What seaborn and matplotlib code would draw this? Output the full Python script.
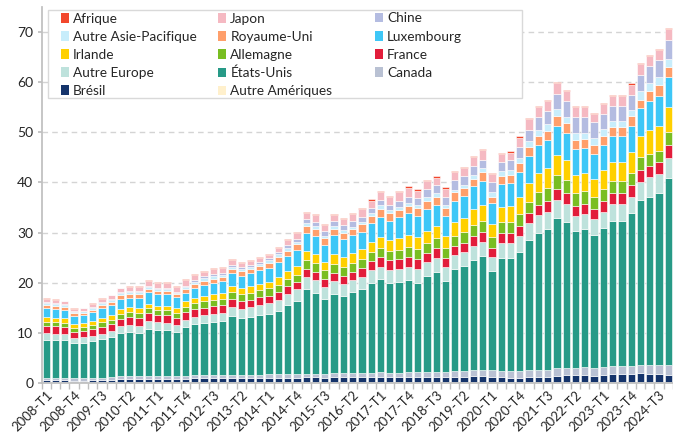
import numpy as np
import pandas as pd
import seaborn as sns
import matplotlib.pyplot as plt
from matplotlib.patches import Patch, Rectangle

sns.set_theme(style="white")
plt.rcParams['font.family'] = ['Lato', 'DejaVu Sans']

# trimestres 2008-T1 .. 2024-T4
quarters = [f"{y}-T{q}" for y in range(2008, 2025) for q in range(1, 5)]

# valeurs (empilées du bas vers le haut)
autre_ameriques = [0.1, 0.1, 0.1, 0.1, 0.1, 0.1, 0.1, 0.1, 0.1, 0.1, 0.1, 0.1, 0.1, 0.1, 0.1, 0.1, 0.1,
                   0.1, 0.1, 0.1, 0.1, 0.1, 0.1, 0.1, 0.1, 0.1, 0.1, 0.1, 0.1, 0.1, 0.1, 0.1, 0.1, 0.1,
                   0.1, 0.1, 0.1, 0.1, 0.1, 0.1, 0.1, 0.1, 0.1, 0.1, 0.1, 0.1, 0.1, 0.1, 0.1, 0.1, 0.1,
                   0.1, 0.1, 0.1, 0.1, 0.1, 0.1, 0.1, 0.1, 0.1, 0.1, 0.1, 0.1, 0.1, 0.1, 0.1, 0.1, 0.1]
bresil = [0.4, 0.4, 0.4, 0.3, 0.3, 0.4, 0.4, 0.5, 0.6, 0.6, 0.6, 0.7, 0.7, 0.7, 0.7, 0.7, 0.8,
          0.8, 0.8, 0.8, 0.8, 0.8, 0.8, 0.8, 0.9, 0.9, 0.9, 0.9, 1.0, 1.0, 0.9, 1.0, 1.0, 1.0,
          1.0, 1.0, 1.1, 1.0, 1.0, 1.0, 1.0, 1.0, 1.1, 1.0, 1.1, 1.1, 1.2, 1.2, 1.1, 1.0, 0.9,
          0.9, 1.0, 1.1, 1.1, 1.3, 1.4, 1.4, 1.4, 1.3, 1.4, 1.6, 1.6, 1.6, 1.8, 1.6, 1.6, 1.4]
canada = [0.5, 0.5, 0.5, 0.6, 0.6, 0.5, 0.5, 0.5, 0.6, 0.6, 0.6, 0.6, 0.6, 0.6, 0.6, 0.6, 0.6,
          0.6, 0.6, 0.6, 0.6, 0.7, 0.7, 0.7, 0.7, 0.7, 0.7, 0.7, 0.7, 0.7, 0.7, 0.8, 0.8, 0.8,
          0.9, 0.9, 0.9, 0.9, 0.9, 1.0, 1.0, 1.0, 1.0, 1.1, 1.1, 1.2, 1.2, 1.2, 1.3, 1.3, 1.3,
          1.3, 1.4, 1.4, 1.4, 1.5, 1.5, 1.5, 1.6, 1.6, 1.6, 1.6, 1.6, 1.7, 1.6, 1.8, 1.9, 2.0]
etats_unis = [7.5, 7.5, 7.6, 6.9, 7.0, 7.3, 7.7, 8.0, 8.6, 8.9, 8.7, 9.4, 9.2, 9.1, 8.8, 9.7, 10.2,
              10.5, 10.7, 10.9, 11.9, 11.4, 11.6, 12.0, 12.1, 12.7, 13.9, 14.7, 16.9, 16.2, 15.1, 15.9, 15.4, 16.3,
              16.7, 18.0, 18.6, 17.9, 18.1, 18.5, 17.9, 19.2, 20.0, 18.2, 20.4, 20.9, 22.1, 22.8, 19.9, 22.6, 22.7,
              23.9, 26.0, 27.4, 28.1, 30.0, 29.2, 27.3, 27.6, 26.5, 27.8, 29.0, 29.0, 30.5, 33.0, 33.7, 34.2, 37.4]
autre_europe = [1.4, 1.3, 1.2, 1.1, 1.1, 1.1, 1.1, 1.2, 1.4, 1.4, 1.4, 1.5, 1.5, 1.5, 1.4, 1.5, 1.5,
                1.5, 1.6, 1.6, 1.8, 1.8, 1.9, 2.0, 2.1, 2.2, 2.2, 2.3, 2.4, 2.5, 2.4, 2.6, 2.5, 2.4,
                2.5, 2.5, 2.5, 2.6, 2.6, 2.6, 2.7, 2.8, 2.8, 2.7, 2.8, 2.8, 2.8, 2.9, 2.7, 2.9, 2.9,
                3.2, 3.4, 3.5, 3.5, 3.6, 3.5, 3.1, 3.1, 3.2, 3.3, 3.4, 3.4, 3.3, 3.6, 3.8, 3.9, 3.9]
france = [1.5, 1.5, 1.4, 1.2, 1.2, 1.3, 1.4, 1.4, 1.5, 1.6, 1.6, 1.6, 1.5, 1.5, 1.4, 1.5, 1.5,
          1.5, 1.5, 1.5, 1.6, 1.6, 1.5, 1.5, 1.5, 1.5, 1.5, 1.5, 1.7, 1.7, 1.6, 1.6, 1.6, 1.6,
          1.8, 1.9, 2.0, 2.0, 2.0, 2.0, 2.0, 1.9, 1.9, 1.8, 1.9, 1.9, 2.0, 2.0, 1.8, 2.0, 2.0,
          2.0, 2.0, 2.1, 2.1, 2.2, 2.2, 2.0, 2.0, 2.1, 2.2, 2.2, 2.2, 2.2, 2.3, 2.3, 2.3, 2.7]
allemagne = [0.8, 0.8, 0.8, 0.8, 0.8, 0.8, 0.9, 0.9, 1.0, 1.0, 1.0, 1.0, 0.9, 1.0, 1.0, 1.1, 1.2,
             1.3, 1.3, 1.3, 1.3, 1.3, 1.4, 1.4, 1.5, 1.5, 1.4, 1.4, 1.8, 1.8, 1.7, 1.8, 1.8, 1.8,
             1.8, 1.8, 1.8, 1.8, 1.9, 2.0, 2.0, 2.0, 2.0, 2.0, 2.0, 2.1, 2.2, 2.2, 2.2, 2.3, 2.3,
             2.3, 2.3, 2.4, 2.5, 2.7, 2.6, 2.5, 2.4, 2.4, 2.3, 2.3, 2.3, 2.4, 2.6, 2.4, 2.3, 2.5]
irlande = [0.9, 0.9, 0.9, 0.8, 0.8, 0.8, 0.9, 0.9, 1.0, 1.0, 1.0, 0.9, 0.8, 0.9, 0.9, 1.1, 1.0,
           1.0, 1.1, 1.2, 1.3, 1.2, 1.3, 1.3, 1.3, 1.5, 1.6, 1.8, 1.7, 1.8, 1.7, 1.9, 2.0, 2.0,
           1.9, 2.0, 2.2, 2.2, 2.3, 2.3, 2.4, 2.4, 2.5, 2.5, 2.8, 2.9, 3.1, 3.1, 2.6, 3.0, 3.1,
           3.4, 3.7, 3.9, 4.0, 4.1, 3.9, 3.6, 3.6, 3.5, 3.7, 3.8, 3.8, 4.2, 4.3, 4.7, 5.0, 5.0]
luxembourg = [1.9, 1.8, 1.7, 1.6, 1.6, 1.8, 2.0, 2.1, 2.0, 1.8, 2.0, 2.3, 2.5, 2.4, 2.2, 1.7, 2.0,
              2.2, 2.3, 2.3, 2.5, 2.5, 2.6, 2.7, 2.8, 3.0, 3.0, 3.1, 3.7, 3.6, 3.4, 3.8, 3.6, 3.5,
              3.5, 3.7, 3.9, 3.9, 4.2, 4.4, 4.3, 4.3, 4.2, 4.0, 4.2, 4.3, 4.5, 4.8, 4.2, 4.5, 4.6,
              5.0, 5.3, 5.5, 5.6, 5.8, 5.5, 5.2, 5.1, 5.0, 5.1, 5.2, 5.2, 5.3, 5.5, 5.8, 6.0, 6.0]
royaume_uni = [0.6, 0.6, 0.6, 0.5, 0.5, 0.5, 0.6, 0.6, 0.7, 0.7, 0.7, 0.7, 0.6, 0.6, 0.6, 0.7, 0.8,
               0.8, 0.8, 0.8, 0.9, 0.9, 0.9, 0.9, 1.0, 1.1, 1.1, 1.2, 1.4, 1.4, 1.3, 1.3, 1.2, 1.2,
               1.5, 1.5, 1.6, 1.5, 1.5, 1.4, 1.5, 1.6, 1.5, 1.5, 1.6, 1.5, 1.5, 1.7, 1.2, 1.5, 1.6,
               1.7, 1.8, 1.9, 1.9, 2.0, 1.9, 1.8, 1.7, 1.8, 1.8, 1.8, 1.8, 1.9, 1.7, 2.0, 2.2, 2.0]
autre_asie_pacifique = [0.4, 0.4, 0.4, 0.3, 0.3, 0.4, 0.4, 0.4, 0.4, 0.4, 0.4, 0.3, 0.3, 0.3, 0.3, 0.4, 0.5,
                        0.6, 0.5, 0.4, 0.4, 0.4, 0.4, 0.4, 0.5, 0.5, 0.5, 0.4, 0.5, 0.5, 0.5, 0.5, 0.5, 0.5,
                        0.5, 0.6, 0.8, 0.7, 0.6, 0.6, 0.7, 0.9, 0.7, 0.6, 0.5, 0.6, 0.8, 0.9, 0.9, 1.0, 1.0,
                        1.1, 1.2, 1.2, 1.3, 1.3, 1.3, 1.3, 1.3, 1.3, 1.3, 1.3, 1.3, 1.3, 1.7, 1.6, 1.5, 1.7]
chine = [0.1, 0.1, 0.1, 0.1, 0.1, 0.1, 0.1, 0.1, 0.2, 0.2, 0.2, 0.2, 0.2, 0.2, 0.2, 0.2, 0.3,
         0.4, 0.4, 0.4, 0.4, 0.4, 0.4, 0.4, 0.4, 0.5, 0.6, 0.6, 0.8, 0.9, 0.9, 1.1, 1.1, 1.1,
         1.0, 1.0, 1.0, 1.0, 1.1, 1.2, 1.3, 1.5, 1.6, 1.7, 2.0, 1.8, 1.7, 1.6, 2.1, 1.9, 1.9,
         2.1, 2.3, 2.5, 2.6, 3.1, 3.1, 3.2, 3.2, 3.2, 3.1, 3.0, 3.0, 3.0, 3.3, 3.4, 3.5, 3.8]
japon = [0.7, 0.7, 0.6, 0.5, 0.5, 0.7, 0.7, 0.8, 0.8, 0.9, 0.9, 1.0, 1.1, 1.1, 1.0, 1.2, 1.0,
         0.9, 1.0, 1.0, 0.9, 0.8, 0.8, 0.7, 0.6, 0.7, 1.0, 1.2, 1.2, 1.3, 1.2, 1.1, 1.1, 1.4,
         1.5, 1.4, 1.5, 1.5, 1.7, 1.8, 1.4, 1.5, 1.5, 1.5, 1.5, 1.6, 1.8, 1.9, 1.6, 1.5, 1.5,
         1.9, 2.1, 2.1, 2.1, 2.1, 2.0, 2.0, 1.9, 1.7, 1.9, 1.9, 1.9, 2.0, 2.2, 2.1, 2.0, 2.1]
afrique = [0.1, 0.1, 0.1, 0.2, 0.1, 0.1, 0.1, 0.1, 0.1, 0.2, 0.2, 0.2, 0.2, 0.2, 0.2, 0.2, 0.2,
           0.2, 0.2, 0.2, 0.2, 0.2, 0.2, 0.2, 0.2, 0.2, 0.2, 0.2, 0.2, 0.2, 0.2, 0.2, 0.2, 0.2,
           0.3, 0.3, 0.3, 0.3, 0.3, 0.3, 0.3, 0.3, 0.3, 0.3, 0.3, 0.3, 0.3, 0.3, 0.1, 0.3, 0.3,
           0.3, 0.2, 0.2, 0.2, 0.3, 0.2, 0.2, 0.2, 0.1, 0.2, 0.2, 0.2, 0.3, 0.2, 0.2, 0.2, 0.2]

# du haut vers le bas de la pile
series = {
    "Afrique": afrique,
    "Japon": japon,
    "Chine": chine,
    "Autre Asie-Pacifique": autre_asie_pacifique,
    "Royaume-Uni": royaume_uni,
    "Luxembourg": luxembourg,
    "Irlande": irlande,
    "Allemagne": allemagne,
    "France": france,
    "Autre Europe": autre_europe,
    "États-Unis": etats_unis,
    "Canada": canada,
    "Brésil": bresil,
    "Autre Amériques": autre_ameriques,
}
colors = {
    "Afrique": "#F2472D",
    "Japon": "#F5B9C2",
    "Chine": "#B4BCE1",
    "Autre Asie-Pacifique": "#C8EDFB",
    "Royaume-Uni": "#FF9F6B",
    "Luxembourg": "#3EC7F7",
    "Irlande": "#FFD000",
    "Allemagne": "#79BE22",
    "France": "#E21D3B",
    "Autre Europe": "#BEE2DC",
    "États-Unis": "#279A87",
    "Canada": "#B9C1D3",
    "Brésil": "#15346B",
    "Autre Amériques": "#FFF0CC",
}

df = pd.DataFrame([
    {"pos": i, "pays": name, "val": v}
    for name, vals in series.items() for i, v in enumerate(vals)
])

W, H = 673, 440
fig = plt.figure(figsize=(W / 100, H / 100), dpi=100)
ax = fig.add_axes([41.6 / W, 57 / H, 1 - 41.6 / W, 376 / H])

sns.histplot(data=df, x="pos", weights="val", hue="pays", hue_order=list(series),
             palette=colors, multiple="stack", discrete=True, shrink=0.78,
             alpha=1, edgecolor="white", linewidth=0.4, legend=False, ax=ax)

ax.set_xlim(-0.5, 67.5)
ax.set_ylim(0, 75)
ax.set_yticks(range(0, 80, 10))
ax.set_xticks(range(0, 68, 3))
ax.set_xticklabels(quarters[::3], rotation=45, ha="right", rotation_mode="anchor", fontsize=9.5)
ax.set_xticks(np.arange(-0.5, 68, 1), minor=True)
ax.tick_params(axis="x", which="major", length=0, pad=4)
ax.tick_params(axis="x", which="minor", length=4, color="#BFBFBF", bottom=True)
ax.tick_params(axis="y", length=3, color="#BFBFBF", left=True, labelsize=10, pad=3)
ax.set_xlabel("")
ax.set_ylabel("")
ax.yaxis.grid(True, linestyle=(0, (4, 3)), color="#D4D4D4", linewidth=1)
ax.set_axisbelow(True)
for s in ["top", "right"]:
    ax.spines[s].set_visible(False)
for s in ["left", "bottom"]:
    ax.spines[s].set_color("#BFBFBF")

# cadre de la légende
fig.add_artist(Rectangle((48 / W, 1 - 98 / H), 474 / W, 88 / H, transform=fig.transFigure,
                         facecolor="white", edgecolor="#D9D9D9", linewidth=1, zorder=3))

legend_cols = [
    ["Afrique", "Autre Asie-Pacifique", "Irlande", "Autre Europe", "Brésil"],
    ["Japon", "Royaume-Uni", "Allemagne", "États-Unis", "Autre Amériques"],
    ["Chine", "Luxembourg", "France", "Canada"],
]
col_x = [61, 218, 375]
for names, x in zip(legend_cols, col_x):
    handles = [Patch(facecolor=colors[n], edgecolor="none") for n in names]
    leg = fig.legend(handles, names, loc="upper left", bbox_to_anchor=(x / W, 1 - 12.5 / H),
                     fontsize=9.8, frameon=False, handlelength=0.6, handleheight=0.7,
                     handletextpad=0.3, labelspacing=0.445, borderpad=0, borderaxespad=0)
    leg.set_zorder(5)

fig.savefig("out.png", dpi=100)
